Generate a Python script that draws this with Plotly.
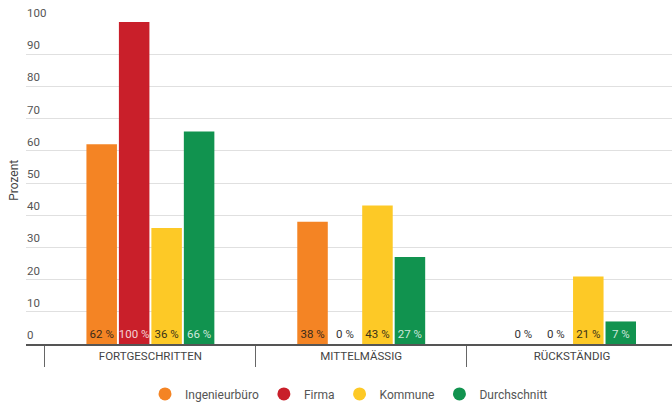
import plotly.graph_objects as go

categories = ["FORTGESCHRITTEN", "MITTELMÄSSIG", "RÜCKSTÄNDIG"]
series_names = ["Ingenieurbüro", "Firma", "Kommune", "Durchschnitt"]
ingenieurbuero = [62, 38, 0]
firma = [100, 0, 0]
kommune = [36, 43, 21]
durchschnitt = [66, 27, 7]
y_ticks = [0, 10, 20, 30, 40, 50, 60, 70, 80, 90, 100]

colors = ["#F48424", "#C91F2A", "#FDC926", "#11934F"]
text_colors = ["#3a2a1a", "rgba(255,255,255,0.8)", "#3a3318", "rgba(255,255,255,0.8)"]
all_values = [ingenieurbuero, firma, kommune, durchschnitt]

fig = go.Figure()
for name, vals, col, tcol in zip(series_names, all_values, colors, text_colors):
    fig.add_trace(go.Bar(
        x=categories, y=vals, name=name,
        marker=dict(color=col, line=dict(width=0)),
        text=[f"{v} %" for v in vals],
        textposition=["inside" if v > 0 else "outside" for v in vals],
        insidetextanchor="start",
        textangle=0,
        constraintext="none",
        cliponaxis=False,
        textfont=dict(family="Roboto", size=11.5,
                      color=[tcol if v > 0 else "#333333" for v in vals]),
        showlegend=False, hoverinfo="skip",
    ))
    fig.add_trace(go.Scatter(
        x=[None], y=[None], mode="markers", name=name,
        marker=dict(color=col, size=13, symbol="circle"),
        showlegend=True,
    ))

# y tick labels drawn above their gridlines, flush with the left edge of the plot
for t in y_ticks:
    fig.add_annotation(
        x=0, xref="paper", y=t, yref="y", text=str(t), showarrow=False,
        xanchor="left", yanchor="bottom", yshift=0, xshift=-1,
        font=dict(family="Roboto", size=11.5, color="#555555"),
    )

fig.add_annotation(
    x=-0.0186, xref="paper", y=0.51, yref="paper", text="Prozent", showarrow=False,
    textangle=-90, xanchor="center", yanchor="middle",
    font=dict(family="Roboto", size=12, color="#444444"),
)

fig.update_layout(
    width=672, height=403,
    margin=dict(l=26, r=0, t=22, b=59, autoexpand=False),
    plot_bgcolor="white", paper_bgcolor="white",
    barmode="group", bargap=0.384, bargroupgap=0.06,
    font=dict(family="Roboto", size=12, color="#444444"),
    legend=dict(orientation="h", x=0.5, xanchor="center", y=-0.155, yanchor="middle",
                font=dict(size=12, color="#555555"), itemwidth=30),
    xaxis=dict(
        type="category", range=[-0.59, 2.474], automargin=False,
        tickson="boundaries", ticks="outside", ticklen=21, tickwidth=1, tickcolor="#666666",
        showline=True, linecolor="#555555", linewidth=2,
        showgrid=False, tickfont=dict(size=11.5, color="#444444"),
    ),
    yaxis=dict(
        range=[0, 100], tickvals=y_ticks, showticklabels=False, automargin=False,
        showgrid=True, gridcolor="#e0e0e0", gridwidth=1, zeroline=False,
    ),
)

fig.write_html("out.html", config={"displayModeBar": False},
               post_script="document.body.style.margin='0';")
